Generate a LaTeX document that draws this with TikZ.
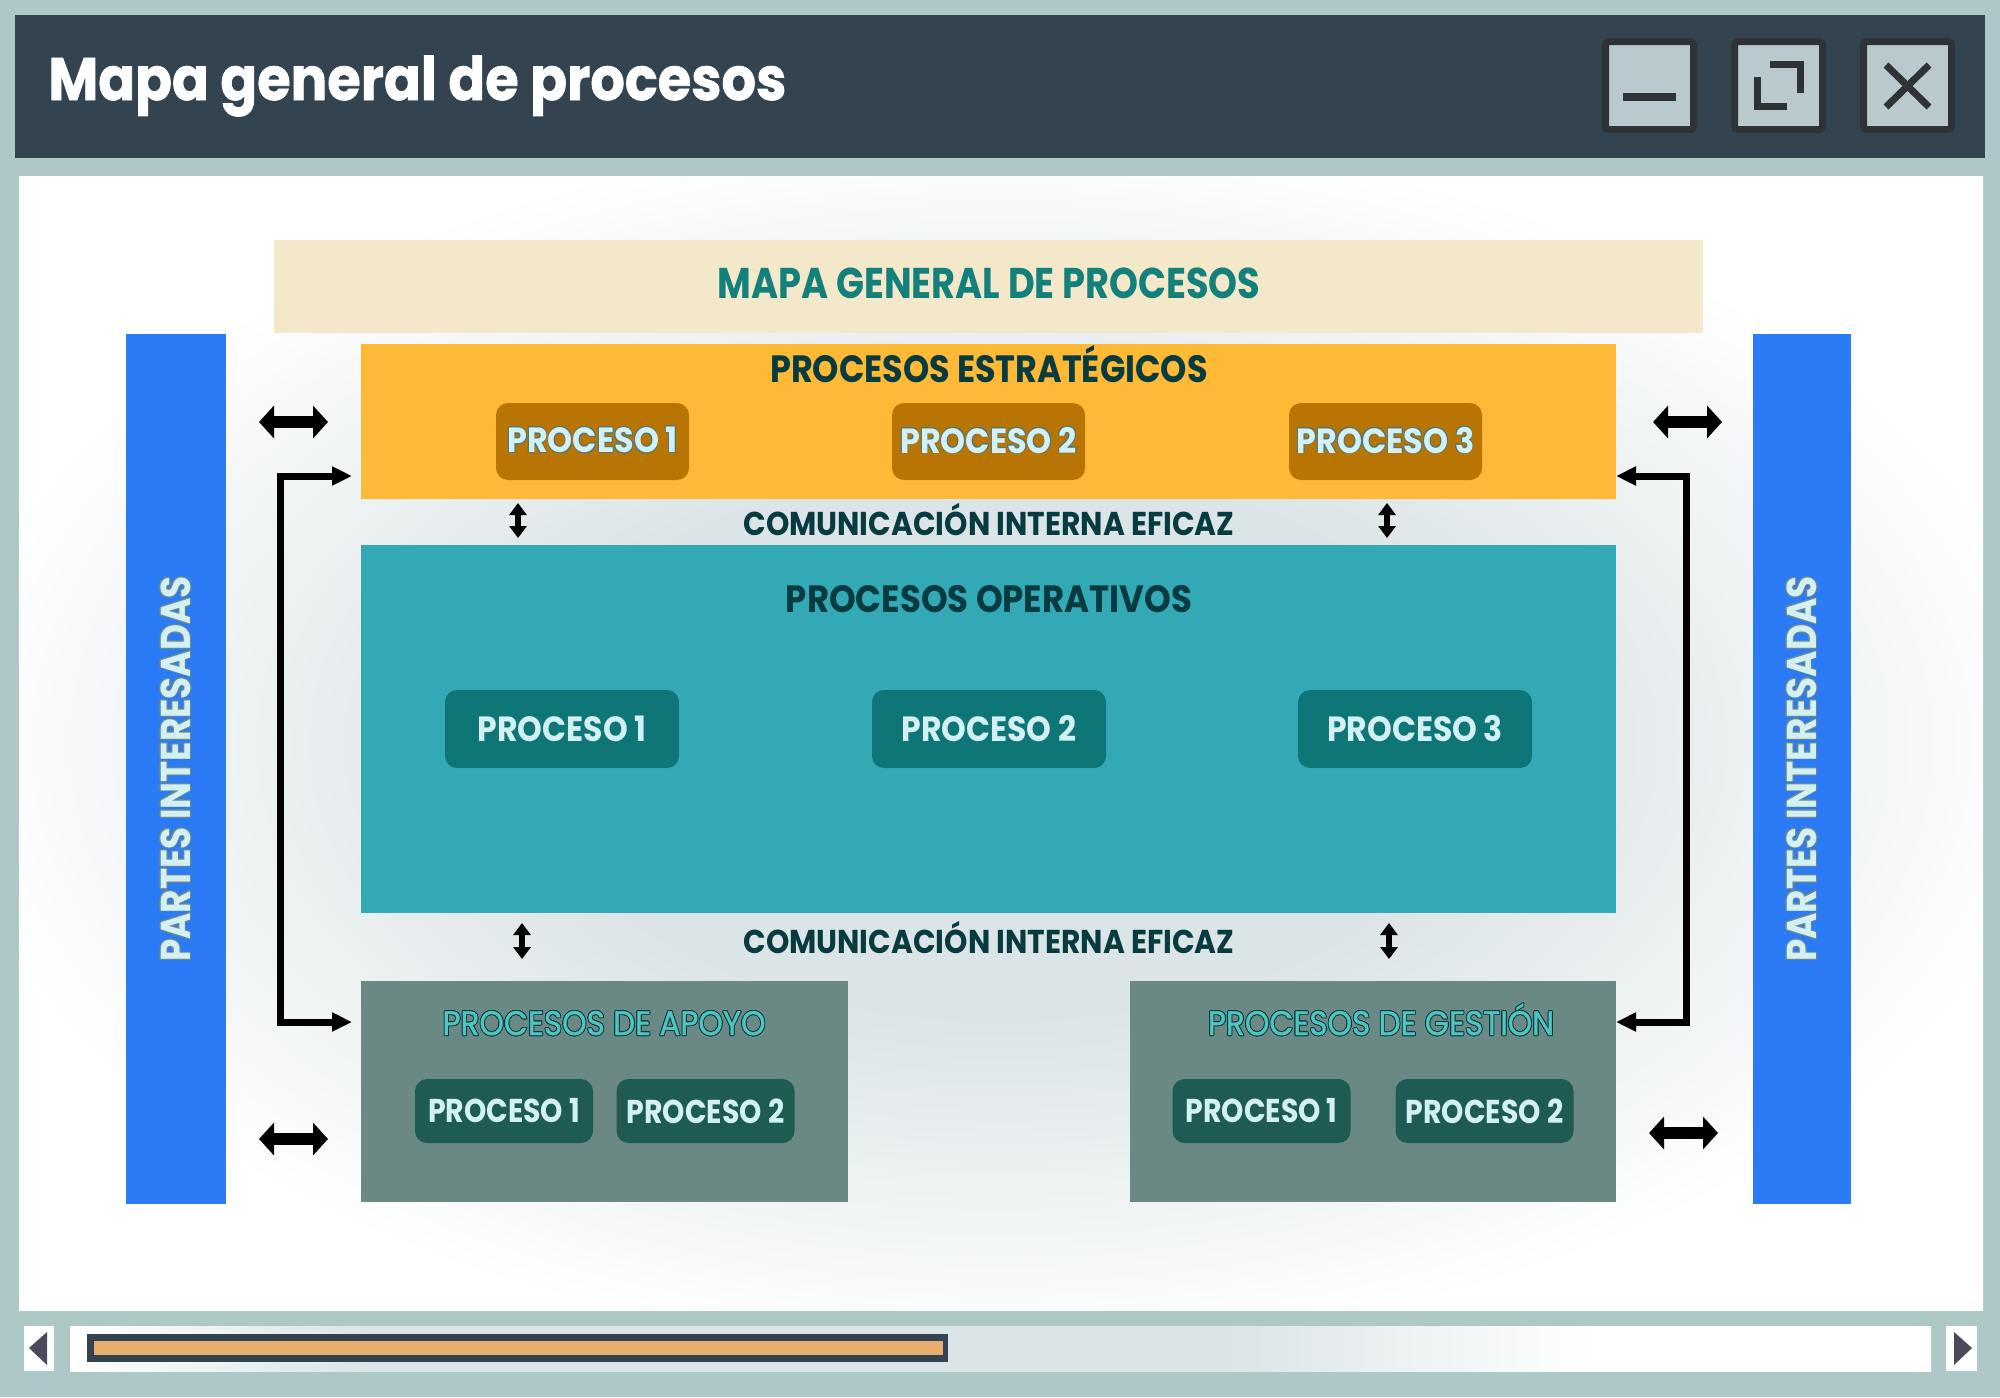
\documentclass[tikz,border=0pt]{standalone}
\usepackage{fontspec}
\setmainfont{Poppins}
\usepackage{contour}
\contourlength{0.45pt}
\usetikzlibrary{arrows.meta}
\definecolor{frameC}{HTML}{ADC8C6}
\definecolor{barC}{HTML}{334450}
\definecolor{btnC}{HTML}{B9C9CE}
\definecolor{btnD}{HTML}{2F3336}
\definecolor{hazeC}{HTML}{DBE4E6}
\definecolor{hdrC}{HTML}{F4E8CB}
\definecolor{hdrT}{HTML}{13807B}
\definecolor{blueC}{HTML}{2B7BF6}
\definecolor{estrC}{HTML}{FEBA36}
\definecolor{estrB}{HTML}{B87503}
\definecolor{operC}{HTML}{33A9B6}
\definecolor{operB}{HTML}{0E7676}
\definecolor{apoyC}{HTML}{6A8985}
\definecolor{apoyB}{HTML}{1E5B53}
\definecolor{apoyT}{HTML}{52C3BE}
\definecolor{darkT}{HTML}{073B40}
\definecolor{lightT}{HTML}{D3F1F3}
\definecolor{thumbC}{HTML}{E8AE70}
\definecolor{triC}{HTML}{4A4A5A}
\pgfdeclareradialshading{haze}{\pgfpoint{0bp}{0bp}}{color(0bp)=(hazeC); color(12bp)=(hazeC); color(27bp)=(white); color(50bp)=(white)}
\pgfdeclarehorizontalshading{track}{100bp}{color(0bp)=(white); color(25bp)=(white); color(33bp)=(hazeC); color(56bp)=(hazeC); color(66bp)=(white); color(100bp)=(white)}
\newcommand\fs[1]{\fontsize{#1}{#1}\selectfont}
\newcommand\sq[2]{\scalebox{#1}[1]{#2}}
\begin{document}
\begin{tikzpicture}[x=0.5pt,y=-0.5pt,
  panel/.style={inner sep=0pt,outer sep=0pt},
  procbox/.style={rounded corners=6pt,inner sep=0pt,text=lightT,font=\bfseries\fs{17.5}},
  lbl/.style={anchor=base,inner sep=0pt,text=darkT,font=\bfseries\fs{19}},
  comm/.style={anchor=base,inner sep=0pt,text=darkT,font=\bfseries\fs{16.5}},
  sub/.style={anchor=base,inner sep=0pt,text=apoyT,font=\fs{17}\addfontfeature{FakeBold=1.2}},
  dbl/.style={line width=6pt,{Triangle[length=7.5pt,width=16pt]}-{Triangle[length=7.5pt,width=16pt]}},
  vdbl/.style={line width=3pt,{Triangle[length=6pt,width=8.5pt]}-{Triangle[length=6pt,width=8.5pt]}},
  brk/.style={line width=3.5pt,{Triangle[length=10pt,width=9pt]}-{Triangle[length=10pt,width=9pt]}}]
\useasboundingbox (0,0) rectangle (2000,1397);
% window
\fill[frameC] (0,0) rectangle (2000,1397);
\fill[barC] (15,15) rectangle (1985,158);
\node[anchor=base west,inner sep=0pt,text=white,font=\bfseries\fs{30}\addfontfeature{FakeBold=1.2}] (ttl) at (48,100) {\sq{.905}{Mapa general de procesos}};
\foreach \bx/\nm in {1649.5/bmin,1778.5/bmax,1907.5/bcls}
  \node[draw=btnD,fill=btnC,line width=3.5pt,minimum size=44pt,inner sep=0pt,rounded corners=1.5pt] (\nm) at (\bx,85.5) {};
\draw[btnD,line width=4pt] (1623,97) -- (1676,97);
\draw[btnD,line width=3.5pt] (1770,64) -- (1800,64) -- (1800,93);
\draw[btnD,line width=3.5pt] (1757.5,77) -- (1757.5,106.5) -- (1787,106.5);
\draw[btnD,line width=3.5pt] (1886,65) -- (1929,107) (1886,107) -- (1929,65);
\shade[shading=haze] (19,176) rectangle (1983,1310);
% scrollbar
\fill[white] (24,1326) rectangle (54,1371);
\fill[white] (1946,1326) rectangle (1977,1371);
\shade[shading=track] (70,1326) rectangle (1931,1371);
\fill[barC] (87,1334) rectangle (948,1362);
\fill[thumbC] (94,1341) rectangle (943,1355);
\fill[triC] (29,1348) -- (47,1332) -- (47,1365) -- cycle;
\fill[triC] (1972,1348) -- (1954,1332) -- (1954,1365) -- cycle;
% map
\node[panel,fill=hdrC,minimum width=714.5pt,minimum height=46.5pt] (hdr) at (988.5,286.5) {};
\node[anchor=base,inner sep=0pt,text=hdrT,font=\bfseries\fs{21.5}] (hdrT) at (989,298) {\sq{.855}{MAPA GENERAL DE PROCESOS}};
\node[panel,fill=blueC,minimum width=50pt,minimum height=435pt] (lbar) at (176,769) {};
\node[panel,fill=blueC,minimum width=49pt,minimum height=435pt] (rbar) at (1802,769) {};
\node[rotate=90,inner sep=0pt,text=lightT,font=\bfseries\fs{20.8}] (lbarT) at (176,769) {\sq{.86}{\contour{darkT!60}{PARTES INTERESADAS}}};
\node[rotate=90,inner sep=0pt,text=lightT,font=\bfseries\fs{20.8}] (rbarT) at (1802,769) {\sq{.86}{\contour{darkT!60}{PARTES INTERESADAS}}};

\node[panel,fill=estrC,minimum width=627.5pt,minimum height=77.5pt] (estr) at (988.5,421.5) {};
\node[lbl] (estrT) at (989,382) {\sq{.88}{PROCESOS ESTRATÉGICOS}};
\foreach \cx/\k in {592.5/1,988.5/2,1385.5/3}
  \node[procbox,fill=estrB,minimum width=96.5pt,minimum height=38.5pt] (e\k) at (\cx,441.5) {\raisebox{1.5pt}{\sq{.91}{\contour{darkT!70}{PROCESO \k}}}};

\node[comm] (comm1) at (989,535) {\sq{.9}{COMUNICACIÓN INTERNA EFICAZ}};

\node[panel,fill=operC,minimum width=627.5pt,minimum height=184pt] (oper) at (988.5,729) {};
\node[lbl] (operT) at (989,612) {\sq{.895}{PROCESOS OPERATIVOS}};
\foreach \cx/\k in {562/1,989/2,1415/3}
  \node[procbox,fill=operB,minimum width=117pt,minimum height=39pt] (o\k) at (\cx,729) {\sq{.9}{PROCESO \k}};

\node[comm] (comm2) at (989,953) {\sq{.9}{COMUNICACIÓN INTERNA EFICAZ}};

\node[panel,fill=apoyC,minimum width=243.5pt,minimum height=110.5pt] (apoy) at (604.5,1091.5) {};
\node[sub] (apoyT) at (604,1035) {\sq{.915}{\contour{darkT}{PROCESOS DE APOYO}}};
\node[panel,fill=apoyC,minimum width=243pt,minimum height=110.5pt] (gest) at (1373,1091.5) {};
\node[sub] (gestT) at (1381,1035) {\sq{.915}{\contour{darkT}{PROCESOS DE GESTIÓN}}};
\foreach \cx/\k/\nm in {504/1/a1,705.5/2/a2,1261.5/1/g1,1484.5/2/g2}
  \node[procbox,fill=apoyB,minimum width=89pt,minimum height=32pt,font=\bfseries\fs{16.5}] (\nm) at (\cx,1111) {\sq{.86}{PROCESO \k}};

% arrows
\coordinate (lh1) at (259,422); \coordinate (lh2) at (328,422);
\coordinate (lh3) at (259,1139); \coordinate (lh4) at (328,1139);
\coordinate (rh1) at (1653,422); \coordinate (rh2) at (1722,422);
\coordinate (rh3) at (1649,1133); \coordinate (rh4) at (1718,1133);
\draw[dbl] (lh1) -- (lh2);
\draw[dbl] (lh3) -- (lh4);
\draw[dbl] (rh1) -- (rh2);
\draw[dbl] (rh3) -- (rh4);
\coordinate (v1) at (518,503); \coordinate (v2) at (518,538);
\coordinate (v3) at (1387,503); \coordinate (v4) at (1387,538);
\coordinate (v5) at (522,923); \coordinate (v6) at (522,959);
\coordinate (v7) at (1389,923); \coordinate (v8) at (1389,959);
\draw[vdbl] (v1) -- (v2);
\draw[vdbl] (v3) -- (v4);
\draw[vdbl] (v5) -- (v6);
\draw[vdbl] (v7) -- (v8);
\draw[brk] (estr.west |- 0,476) ++(-9,0) coordinate (lb1) -- ++(-72,0) |- ([xshift=-4.5pt]apoy.west |- 0,1022);
\draw[brk] (estr.east |- 0,476) coordinate (rb1) -- ++(70,0) |- (gest.east |- 0,1022);
\end{tikzpicture}
\end{document}
